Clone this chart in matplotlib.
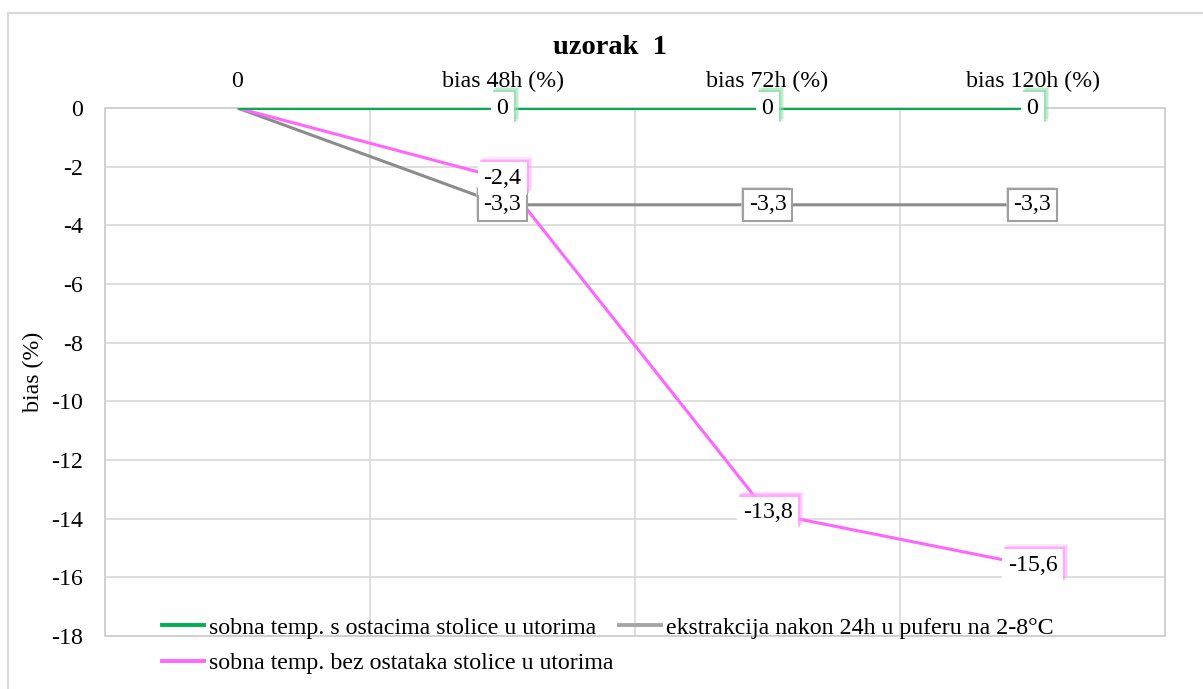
import matplotlib
matplotlib.use("Agg")
import matplotlib.pyplot as plt
import matplotlib.patheffects as pe
from matplotlib.lines import Line2D
from matplotlib.patches import Rectangle

# ---- data ----
categories = ["0", "bias 48h (%)", "bias 72h (%)", "bias 120h (%)"]
s_green = [0, 0, 0, 0]
s_gray = [0, -3.3, -3.3, -3.3]
s_pink = [0, -2.4, -13.8, -15.6]
names = ["sobna temp. s ostacima stolice u utorima",
         "ekstrakcija nakon 24h u puferu na 2-8°C",
         "sobna temp. bez ostataka stolice u utorima"]
title = "uzorak  1"
ylabel = "bias (%)"

plt.rcParams['font.family'] = ['Liberation Serif', 'DejaVu Serif']
FS = 17.2

fig = plt.figure(figsize=(12.03, 6.89), dpi=100)
W, H = 1203, 689
# outer chart border
fig.patches.append(Rectangle((8 / W, -0.05), 1.2, 1 - 13 / H + 0.05,
                             transform=fig.transFigure, fill=False,
                             ec="#d9d9d9", lw=1.6, zorder=0))

ax = fig.add_axes([105 / W, 1 - 636 / H, (1165 - 105) / W, (636 - 108) / H])
x = list(range(len(categories)))

c_green = "#00B050"
c_gray = "#8c8c8c"
c_gray_leg = "#a6a6a6"
c_pink = "#FF66FF"

ax.plot(x, s_gray, color=c_gray, lw=2.2, zorder=3, solid_capstyle="butt")
ax.plot(x, s_pink, color=c_pink, lw=2.2, zorder=3, solid_capstyle="butt")
ax.plot(x, s_green, color=c_green, lw=2.2, zorder=3, solid_capstyle="butt")

ax.set_xlim(-0.5, len(categories) - 0.5)
ax.set_ylim(-18, 0)
ax.set_yticks(range(-18, 1, 2))
ax.set_yticklabels([str(v) for v in range(-18, 1, 2)], fontsize=FS)
ax.set_xticks(x)
ax.set_xticklabels(categories, fontsize=FS)
ax.xaxis.tick_top()
ax.set_xticks([i + 0.5 for i in x[:-1]], minor=True)
ax.tick_params(axis="x", which="both", length=0, pad=11.5)
ax.tick_params(axis="y", length=0, pad=16)
ax.grid(axis="y", which="major", color="#d9d9d9", lw=1.2)
ax.grid(axis="x", which="minor", color="#d9d9d9", lw=1.2)
ax.set_axisbelow(True)
for sp in ax.spines.values():
    sp.set_color("#d0d0d0")
    sp.set_linewidth(1.4)

fig.text(610 / W, 1 - 47 / H, title, fontsize=20.5, fontweight="bold",
         ha="center", va="center")
ax.set_ylabel(ylabel, fontsize=FS, labelpad=5)


def fmt(v):
    return str(v).replace(".", ",") if v != int(v) else str(int(v))


def label(xi, yi, glow=None, edge=None):
    s = fmt(yi)
    if glow is not None:
        t = ax.annotate(s, (xi, yi), ha="center", va="center", fontsize=FS,
                        color="black",
                        bbox=dict(boxstyle="square,pad=0.24", fc="white", ec="none"),
                        zorder=6)
        t.get_bbox_patch().set_path_effects([
            pe.SimplePatchShadow(offset=(3.6, 3.6), shadow_rgbFace=glow, alpha=0.25),
            pe.SimplePatchShadow(offset=(2.6, 2.6), shadow_rgbFace=glow, alpha=0.4),
            pe.SimplePatchShadow(offset=(1.5, 1.5), shadow_rgbFace=glow, alpha=0.7),
            pe.Normal()])
    else:
        t = ax.annotate(s, (xi, yi), ha="center", va="center", fontsize=FS,
                        color="black",
                        bbox=dict(boxstyle="square,pad=0.22", fc="white", ec=edge, lw=1.5),
                        zorder=6)
        t.get_bbox_patch().set_path_effects([
            pe.SimplePatchShadow(offset=(-1.5, 1.5), shadow_rgbFace="#d8d8d8", alpha=0.7),
            pe.Normal()])


for i in x[1:]:
    label(i, s_gray[i], edge="#a0a0a0")
for i in x[1:]:
    label(i, s_pink[i], glow="#ff9cff")
for i in x[1:]:
    label(i, s_green[i], glow="#8fdcaa")

handles = [Line2D([], [], color=c_green, lw=2.8),
           Line2D([], [], color=c_pink, lw=2.8),
           Line2D([], [], color=c_gray_leg, lw=2.8)]
labels = [names[0], names[2], names[1]]
fig.legend(handles, labels, ncol=2, loc="upper left",
           bbox_to_anchor=(162 / W, 1 - 617 / H), frameon=False,
           fontsize=FS, handlelength=1.75, handletextpad=0.2,
           columnspacing=0.25, labelspacing=0.58, borderaxespad=0, borderpad=0)

fig.savefig("out.png", dpi=100)
